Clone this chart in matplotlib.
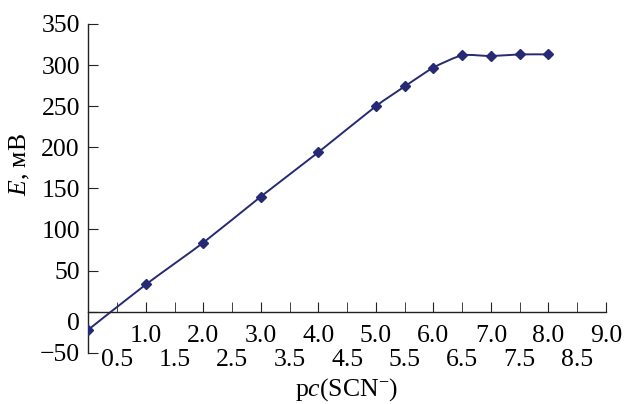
import matplotlib
matplotlib.use('Agg')
import matplotlib.pyplot as plt
import matplotlib.transforms as mtransforms
from matplotlib.path import Path
from matplotlib.patches import PathPatch
import numpy as np

plt.rcParams['font.family'] = ['Liberation Serif', 'DejaVu Serif']
plt.rcParams['mathtext.fontset'] = 'custom'
plt.rcParams['mathtext.rm'] = 'Liberation Serif'
plt.rcParams['mathtext.it'] = 'Liberation Serif:italic'

# измеренные точки
pc = [0.0, 1.0, 2.0, 3.0, 4.0, 5.0, 5.5, 6.0, 6.5, 7.0, 7.5, 8.0]
E = [-22, 33, 84, 140, 194, 250, 274, 297, 312, 311, 313, 313]

major_ticks = [1.0, 2.0, 3.0, 4.0, 5.0, 6.0, 7.0, 8.0, 9.0]
minor_ticks = [0.5, 1.5, 2.5, 3.5, 4.5, 5.5, 6.5, 7.5, 8.5]
y_ticks = [-50, 0, 50, 100, 150, 200, 250, 300, 350]

color = '#262a74'
fs = 18.5


def smooth_path(xs, ys, t=0.3):
    """сглаженная линия (Catmull-Rom -> кубические Безье)"""
    pts = np.column_stack([xs, ys]).astype(float)
    verts = [pts[0]]
    codes = [Path.MOVETO]
    n = len(pts)
    for i in range(n - 1):
        p0 = pts[i - 1] if i > 0 else pts[i]
        p1 = pts[i]
        p2 = pts[i + 1]
        p3 = pts[i + 2] if i + 2 < n else pts[i + 1]
        c1 = p1 + (p2 - p0) * t / 3
        c2 = p2 - (p3 - p1) * t / 3
        verts += [c1, c2, p2]
        codes += [Path.CURVE4] * 3
    return Path(verts, codes)


fig = plt.figure(figsize=(6.25, 4.04), dpi=100)
ax = fig.add_axes([0.1413, 0.127, 0.8283, 0.8136])

ax.add_patch(PathPatch(smooth_path(pc, E), facecolor='none', edgecolor=color,
                       linewidth=1.4, zorder=2))
ax.plot(pc, E, linestyle='none', marker='D', markersize=5.5, color=color, zorder=3)

ax.set_xlim(0, 9.0)
ax.set_ylim(-50, 350)

ax.spines['top'].set_visible(False)
ax.spines['right'].set_visible(False)
ax.spines['bottom'].set_position(('data', 0))
for s in ['left', 'bottom']:
    ax.spines[s].set_color('#222222')
    ax.spines[s].set_linewidth(1.0)

ax.set_xticks(major_ticks, labels=[f'{v:.1f}' for v in major_ticks])
ax.set_xticks(minor_ticks, labels=[f'{v:.1f}' for v in minor_ticks], minor=True)
ax.tick_params(axis='x', which='major', direction='in', length=7, pad=10,
               labelsize=fs, color='#222222')
ax.tick_params(axis='x', which='minor', direction='in', length=7, pad=27,
               labelsize=fs, color='#222222')

ax.set_yticks(y_ticks, labels=[f'{v}'.replace('-', '\u2212') for v in y_ticks])
ax.tick_params(axis='y', direction='in', length=7, pad=6, labelsize=fs,
               color='#222222')
# подпись "0" чуть ниже оси
for lab in ax.get_yticklabels():
    if lab.get_text() == '0':
        lab.set_transform(lab.get_transform() +
                          mtransforms.ScaledTranslation(0, -10 / 100, fig.dpi_scale_trans))

fig.text(0.032, 0.594, r'$\mathit{E}$, мВ', rotation=90, fontsize=fs,
         ha='center', va='center')
fig.text(0.555, 0.035, r'p$\mathit{c}$(SCN$^{-}$)', fontsize=fs,
         ha='center', va='center')

plt.savefig('out.png', dpi=100)
